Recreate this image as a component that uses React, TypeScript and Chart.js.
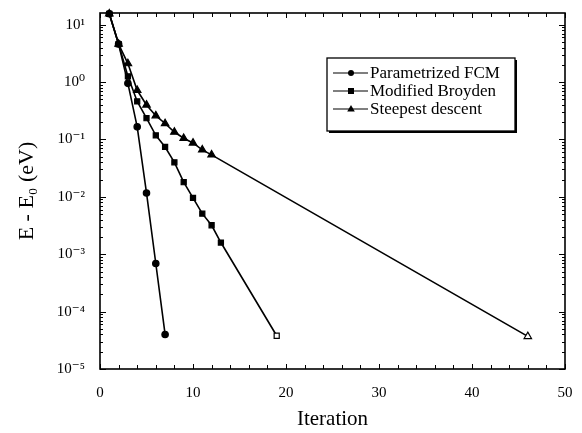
import React, { useEffect, useRef } from 'react';
import { Chart, registerables } from 'chart.js';

Chart.register(...registerables);

// ---- data ----
const fcmIter = [1, 2, 3, 4, 5, 6, 7];
const fcmErr = [15.5, 4.6, 0.95, 0.166, 0.0117, 6.9e-4, 4.0e-5];

const broydenIter = [1, 2, 3, 4, 5, 6, 7, 8, 9, 10, 11, 12, 13, 19];
const broydenErr = [15.5, 4.6, 1.26, 0.46, 0.235, 0.118, 0.074, 0.04, 0.018, 0.0096, 0.0051, 0.0032, 0.0016, 3.8e-5];

const steepestIter = [1, 2, 3, 4, 5, 6, 7, 8, 9, 10, 11, 12, 46];
const steepestErr = [15.5, 4.6, 2.1, 0.72, 0.4, 0.26, 0.19, 0.135, 0.105, 0.087, 0.066, 0.054, 3.7e-5];

const seriesLabels = ['Parametrized FCM', 'Modified Broyden', 'Steepest descent'];
const seriesMarkers = ['circle', 'rect', 'triangle'];

const xTickValues = [0, 10, 20, 30, 40, 50];
const yTickValues = [1e-5, 1e-4, 1e-3, 1e-2, 1e-1, 1, 10];
const yTickLabels = ['10⁻⁵', '10⁻⁴', '10⁻³', '10⁻²', '10⁻¹', '10⁰', '10¹'];

const INK = '#000';
const SERIF = "'Liberation Serif', 'DejaVu Serif', serif";

function toPoints(xs: number[], ys: number[]) {
  return xs.map((x, i) => ({ x, y: ys[i] }));
}

function fills(n: number, openLast: boolean) {
  return Array.from({ length: n }, (_, i) => (openLast && i === n - 1 ? '#fff' : INK));
}

function drawMarker(ctx: CanvasRenderingContext2D, style: string, x: number, y: number) {
  ctx.beginPath();
  if (style === 'circle') {
    ctx.arc(x, y, 3, 0, Math.PI * 2);
  } else if (style === 'rect') {
    ctx.rect(x - 3, y - 3, 6, 6);
  } else {
    ctx.moveTo(x, y - 4);
    ctx.lineTo(x + 3.8, y + 2.6);
    ctx.lineTo(x - 3.8, y + 2.6);
    ctx.closePath();
  }
  ctx.fill();
}

const frameTicks = {
  id: 'frameTicks',
  afterDatasetsDraw(chart: any) {
    const { ctx, chartArea: a, scales } = chart;
    const x = scales.x;
    const y = scales.y;
    ctx.save();
    ctx.strokeStyle = INK;
    ctx.lineWidth = 1.6;
    ctx.strokeRect(a.left, a.top, a.right - a.left, a.bottom - a.top);
    ctx.lineWidth = 1;
    ctx.beginPath();
    for (let v = 0; v <= 50; v += 2) {
      const px = Math.round(x.getPixelForValue(v)) + 0.5;
      const len = v % 10 === 0 ? 5 : 4;
      ctx.moveTo(px, a.bottom);
      ctx.lineTo(px, a.bottom - len);
      ctx.moveTo(px, a.top);
      ctx.lineTo(px, a.top + len);
    }
    for (let d = -5; d <= 1; d++) {
      for (let m = 1; m <= 9; m++) {
        const v = m * Math.pow(10, d);
        if (v > y.max) continue;
        const py = Math.round(y.getPixelForValue(v)) + 0.5;
        const len = m === 1 ? 6 : 3;
        ctx.moveTo(a.left, py);
        ctx.lineTo(a.left + len, py);
        ctx.moveTo(a.right, py);
        ctx.lineTo(a.right - len, py);
      }
    }
    ctx.stroke();
    ctx.restore();
  },
};

const boxLegend = {
  id: 'boxLegend',
  afterDraw(chart: any) {
    const { ctx, chartArea: a } = chart;
    const left = a.left + 227;
    const top = a.top + 45;
    const w = 188;
    const h = 73;
    ctx.save();
    ctx.fillStyle = INK;
    ctx.fillRect(left + 2, top + 2, w, h);
    ctx.fillStyle = '#fff';
    ctx.fillRect(left, top, w, h);
    ctx.strokeStyle = INK;
    ctx.lineWidth = 1.3;
    ctx.strokeRect(left, top, w, h);
    const rows = [15, 33, 51];
    chart.data.datasets.forEach((ds: any, i: number) => {
      const ry = top + rows[i];
      ctx.strokeStyle = INK;
      ctx.lineWidth = 1.2;
      ctx.beginPath();
      ctx.moveTo(left + 6, ry);
      ctx.lineTo(left + 41, ry);
      ctx.stroke();
      ctx.fillStyle = INK;
      drawMarker(ctx, seriesMarkers[i], left + 24, ry);
      ctx.font = `17px ${SERIF}`;
      ctx.textBaseline = 'middle';
      ctx.textAlign = 'left';
      ctx.fillText(ds.label, left + 43, ry + 1);
    });
    ctx.restore();
  },
};

export default function App() {
  const ref = useRef<HTMLCanvasElement | null>(null);

  useEffect(() => {
    document.body.style.margin = '0';
    if (!ref.current) return;
    const mk = (i: number, xs: number[], ys: number[], openLast: boolean, r: number) => ({
      label: seriesLabels[i],
      data: toPoints(xs, ys),
      borderColor: INK,
      borderWidth: 1.6,
      pointStyle: seriesMarkers[i],
      pointRadius: r,
      pointBorderWidth: 1.2,
      pointBorderColor: INK,
      pointBackgroundColor: fills(xs.length, openLast),
      tension: 0,
      fill: false,
      clip: false as any,
    });
    const chart = new Chart(ref.current, {
      type: 'line',
      data: {
        datasets: [
          mk(0, fcmIter, fcmErr, false, 3.2),
          mk(1, broydenIter, broydenErr, true, 3.6),
          mk(2, steepestIter, steepestErr, true, 4.3),
        ],
      },
      options: {
        responsive: false,
        animation: false,
        layout: { padding: { top: 13, right: 17, left: 0, bottom: 0 } },
        plugins: {
          legend: { display: false },
          tooltip: { enabled: false },
        },
        scales: {
          x: {
            type: 'linear',
            min: 0,
            max: 50,
            afterBuildTicks: (s: any) => {
              s.ticks = xTickValues.map((v) => ({ value: v }));
            },
            afterFit: (s: any) => {
              s.height = 64;
              s.paddingLeft = 0;
              s.paddingRight = 0;
            },
            grid: { display: false },
            border: { display: false },
            ticks: {
              padding: 7,
              color: INK,
              maxRotation: 0,
              autoSkip: false,
              font: { family: SERIF, size: 15 },
            },
            title: {
              display: true,
              text: 'Iteration',
              color: INK,
              font: { family: SERIF, size: 21 },
              padding: { top: 0, bottom: 1 },
            },
          },
          y: {
            type: 'logarithmic',
            min: 1e-5,
            max: 16,
            afterBuildTicks: (s: any) => {
              s.ticks = yTickValues.map((v) => ({ value: v }));
            },
            afterFit: (s: any) => {
              s.width = 100;
              s.paddingTop = 0;
              s.paddingBottom = 0;
            },
            grid: { display: false },
            border: { display: false },
            ticks: {
              padding: 7,
              color: INK,
              autoSkip: false,
              font: { family: SERIF, size: 15 },
              callback: (v: any) => {
                const idx = yTickValues.findIndex((t) => Math.abs(Math.log10(t) - Math.log10(Number(v))) < 1e-6);
                return idx >= 0 ? yTickLabels[idx] : '';
              },
            },
            title: {
              display: true,
              text: 'E - E₀ (eV)',
              color: INK,
              font: { family: SERIF, size: 22 },
              padding: { top: 14, bottom: 0 },
            },
          },
        },
      } as any,
      plugins: [frameTicks, boxLegend],
    });
    return () => chart.destroy();
  }, []);

  return (
    <div style={{ width: 582, height: 433, background: '#fff' }}>
      <canvas ref={ref} width={582} height={433} style={{ display: 'block' }} />
    </div>
  );
}
